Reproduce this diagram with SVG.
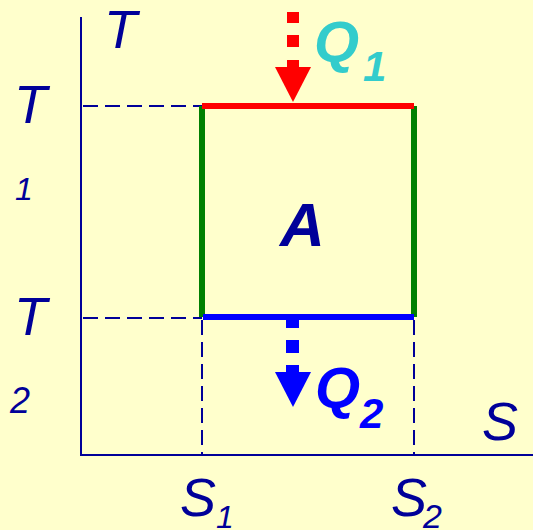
<svg xmlns="http://www.w3.org/2000/svg" width="533" height="530" viewBox="0 0 533 530">
<style>
.ax{stroke:#000099;stroke-width:2;fill:none}
.dash{stroke:#000099;stroke-width:2;stroke-dasharray:15 7;fill:none}
.lbl{font-family:"Liberation Sans",Arial,sans-serif;font-style:italic;fill:#000099}
.b{font-weight:bold}
</style>
<rect width="533" height="530" fill="#FFFFCC"/>
<g id="axes">
<path class="ax" d="M81,17 V455 H533"/>
</g>
<g id="connectors">
<path class="dash" d="M83,106 H202"/>
<path class="dash" d="M83,318 H202"/>
<path class="dash" d="M202,320 V455"/>
<path class="dash" d="M414,320 V455"/>
</g>
<g id="cycle">
<line x1="202" y1="106" x2="202" y2="317" stroke="#008000" stroke-width="6"/>
<line x1="414" y1="106" x2="414" y2="317" stroke="#008000" stroke-width="6"/>
<line x1="202" y1="106" x2="414" y2="106" stroke="#FF0000" stroke-width="6"/>
<line x1="203" y1="317" x2="414" y2="317" stroke="#0000FF" stroke-width="6"/>
</g>
<g id="q1-arrow" fill="#FF0000">
<rect x="287" y="12" width="12" height="11"/>
<rect x="287" y="35" width="12" height="12"/>
<rect x="287" y="60" width="12" height="8"/>
<polygon points="275,67 311,67 293,102"/>
</g>
<g id="q2-arrow" fill="#0000FF">
<rect x="286" y="317" width="13" height="11"/>
<rect x="286" y="340" width="13" height="13"/>
<rect x="286" y="365" width="13" height="8"/>
<polygon points="275,372 311,372 293,407"/>
</g>
<g id="labels">
<text class="lbl" x="104" y="48" font-size="54">T</text>
<text class="lbl" x="14" y="123" font-size="54">T</text>
<text class="lbl" x="15" y="200" font-size="32">1</text>
<text class="lbl" x="14" y="335" font-size="54">T</text>
<text class="lbl" x="10" y="413" font-size="36">2</text>
<text class="lbl" x="482" y="440" font-size="54">S</text>
<text class="lbl" x="180" y="516" font-size="54">S</text>
<text class="lbl" x="216" y="528" font-size="32">1</text>
<text class="lbl" x="391" y="516" font-size="54">S</text>
<text class="lbl" x="423" y="528" font-size="34">2</text>
<text class="lbl b" x="280" y="246" font-size="62">A</text>
<text class="lbl b" x="314" y="62" font-size="58" fill="#33CCCC" style="fill:#33CCCC">Q</text>
<text class="lbl b" x="363" y="81" font-size="42" style="fill:#33CCCC">1</text>
<text class="lbl b" x="315" y="408" font-size="58" style="fill:#0000FF">Q</text>
<text class="lbl b" x="360" y="428" font-size="42" style="fill:#0000FF">2</text>
</g>
</svg>
